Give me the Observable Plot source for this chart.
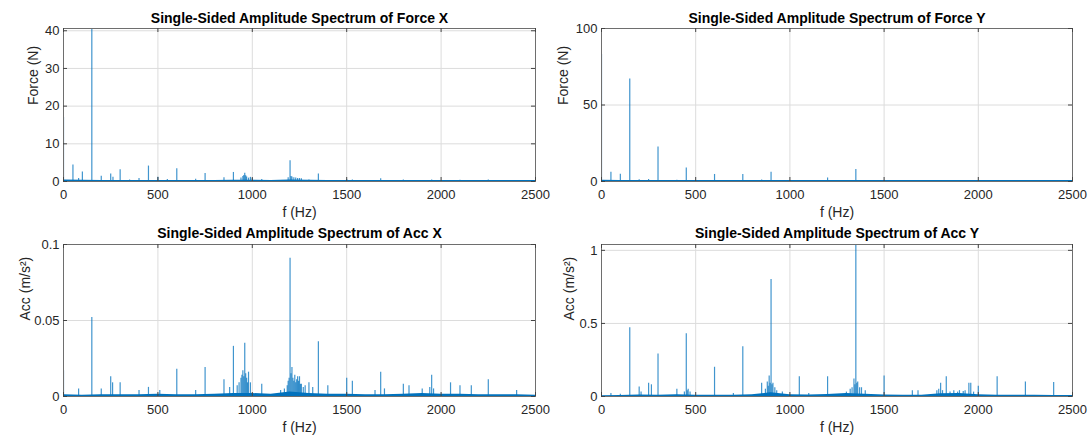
<!DOCTYPE html>
<html><head><meta charset="utf-8">
<script src="https://cdn.jsdelivr.net/npm/d3@7"></script>
<script src="https://cdn.jsdelivr.net/npm/@observablehq/plot@0.6"></script>
<style>
body{margin:0;background:#fff;}
#fig{position:relative;width:1088px;height:439px;font-family:"Liberation Sans",Arial,sans-serif;background:#fff;}
#fig svg{position:absolute;overflow:visible;}
</style></head><body><div id="fig"></div>
<script>
// ---- data ----
const xTicks = [0, 500, 1000, 1500, 2000, 2500];
const floorFreq = [0,100,200,300,400,500,600,700,800,900,1000,1100,1200,1300,1400,1500,1600,1700,1800,1900,2000,2100,2200,2300,2400,2500];

const forceXTitle = "Single-Sided Amplitude Spectrum of Force X";
const forceXLabel = "Force (N)";
const forceXTicks = [0, 10, 20, 30, 40];
const forceXMax = 40.6;
const forceXPeaks = [[0,17],[50,4.4],[80,0.8],[100,2.5],[150,40.6],[200,1.4],[250,2.0],[262,1.1],[300,3.1],[350,0.4],[400,0.8],[450,4.1],[500,1.1],[550,0.5],[600,3.4],[700,0.6],[750,2.1],[850,1.0],[900,2.4],[940,0.9],[950,1.3],[955,1.6],[960,2.2],[965,1.5],[970,1.2],[980,0.9],[990,1.1],[1000,0.8],[1050,0.5],[1190,1.0],[1200,5.5],[1205,1.3],[1210,1.2],[1220,1.0],[1230,0.9],[1240,0.8],[1250,0.8],[1260,0.7],[1300,0.4],[1350,2.0],[1500,0.5],[1530,0.4],[1680,0.7],[1800,0.4],[1950,0.4],[2100,0.3],[2250,0.4]];
const forceXFloor = [0.4,0.3,0.25,0.25,0.25,0.25,0.25,0.25,0.25,0.3,0.35,0.25,0.4,0.3,0.25,0.25,0.25,0.25,0.25,0.25,0.25,0.25,0.25,0.25,0.25,0.25];

const forceYTitle = "Single-Sided Amplitude Spectrum of Force Y";
const forceYLabel = "Force (N)";
const forceYTicks = [0, 50, 100];
const forceYMax = 100;
const forceYPeaks = [[0,83],[50,6.1],[100,4.8],[150,67],[200,1.2],[250,1.3],[300,22.5],[350,0.6],[400,0.8],[450,8.8],[500,0.6],[600,4.6],[750,4.5],[850,1.0],[900,6.0],[1200,2.3],[1350,7.9],[1500,0.6],[1800,0.5],[2100,0.5],[2250,0.5]];
const forceYFloor = [0.8,0.6,0.6,0.6,0.6,0.6,0.6,0.6,0.6,0.6,0.6,0.6,0.6,0.6,0.6,0.6,0.6,0.6,0.6,0.6,0.6,0.6,0.6,0.6,0.6,0.6];

const accXTitle = "Single-Sided Amplitude Spectrum of Acc X";
const accXLabel = "Acc (m/s²)";
const accXTicks = [0, 0.05, 0.1];
const accXMax = 0.1;
const accXPeaks = [[0,0.017],[80,0.005],[150,0.052],[200,0.005],[250,0.013],[260,0.009],[300,0.009],[400,0.004],[450,0.006],[510,0.004],[600,0.018],[700,0.004],[750,0.019],[850,0.011],[880,0.006],[900,0.033],[920,0.007],[930,0.009],[940,0.012],[945,0.014],[950,0.017],[955,0.013],[960,0.035],[965,0.015],[970,0.012],[975,0.009],[980,0.016],[990,0.009],[1050,0.008],[1150,0.004],[1170,0.005],[1185,0.007],[1190,0.01],[1195,0.012],[1200,0.091],[1205,0.015],[1210,0.019],[1215,0.012],[1220,0.01],[1225,0.014],[1230,0.009],[1235,0.011],[1240,0.013],[1245,0.01],[1250,0.013],[1255,0.008],[1260,0.008],[1270,0.006],[1280,0.007],[1300,0.009],[1320,0.006],[1350,0.036],[1400,0.007],[1500,0.012],[1530,0.01],[1650,0.004],[1680,0.016],[1700,0.005],[1800,0.008],[1830,0.007],[1900,0.005],[1940,0.006],[1950,0.014],[1960,0.005],[2050,0.009],[2100,0.007],[2160,0.007],[2250,0.011],[2400,0.004]];
const accXFloor = [0.0012,0.0008,0.0012,0.0012,0.0012,0.0015,0.0012,0.0012,0.0015,0.002,0.002,0.0015,0.003,0.002,0.0015,0.0015,0.0012,0.0012,0.0015,0.002,0.0015,0.0015,0.0012,0.0012,0.0012,0.0008];

const accYTitle = "Single-Sided Amplitude Spectrum of Acc Y";
const accYLabel = "Acc (m/s²)";
const accYTicks = [0, 0.5, 1];
const accYMax = 1.04;
const accYPeaks = [[50,0.02],[100,0.015],[150,0.47],[200,0.065],[210,0.03],[250,0.09],[265,0.08],[300,0.29],[400,0.05],[440,0.03],[450,0.43],[455,0.04],[460,0.05],[470,0.03],[600,0.2],[700,0.02],[750,0.34],[850,0.09],[870,0.05],[880,0.1],[885,0.07],[890,0.14],[895,0.09],[900,0.8],[905,0.08],[910,0.09],[920,0.06],[930,0.04],[960,0.03],[1050,0.135],[1100,0.02],[1200,0.135],[1300,0.03],[1320,0.05],[1330,0.06],[1340,0.12],[1345,0.08],[1350,1.04],[1355,0.09],[1360,0.1],[1370,0.06],[1380,0.06],[1400,0.04],[1500,0.14],[1650,0.04],[1680,0.04],[1780,0.04],[1790,0.05],[1800,0.09],[1810,0.04],[1830,0.135],[1850,0.03],[1870,0.04],[1890,0.03],[1900,0.04],[1920,0.035],[1930,0.04],[1950,0.09],[1960,0.09],[1975,0.03],[2000,0.07],[2100,0.135],[2250,0.1],[2400,0.095]];
const accYFloor = [0.005,0.006,0.01,0.008,0.012,0.008,0.008,0.008,0.012,0.025,0.012,0.01,0.014,0.02,0.016,0.01,0.008,0.008,0.018,0.02,0.012,0.008,0.008,0.008,0.006,0.006];

// ---- drawing ----
const blue = "#0072BD";
const fig = document.getElementById("fig");

function panel(o) {
  const W = 544, H = o.height;
  const fw = W - o.marginLeft - o.marginRight;
  const fh = H - o.marginTop - o.marginBottom;
  const floor = floorFreq.map((f, i) => ({f, a: o.floor[i]}));
  const chart = Plot.plot({
    width: W, height: H,
    marginLeft: o.marginLeft, marginRight: o.marginRight,
    marginTop: o.marginTop, marginBottom: o.marginBottom,
    style: {fontFamily: '"Liberation Sans", Arial, sans-serif', fontSize: "13px", color: "#262626", background: "transparent"},
    x: {domain: [0, 2500], axis: null},
    y: {domain: [0, o.ymax], axis: null},
    marks: [
      Plot.gridX(xTicks, {stroke: "#dcdcdc", strokeOpacity: 1}),
      Plot.gridY(o.yTicks, {stroke: "#dcdcdc", strokeOpacity: 1}),
      Plot.areaY(floor, {x: "f", y: "a", fill: blue, clip: true}),
      Plot.ruleX(o.peaks, {x: d => d[0], y1: 0, y2: d => d[1], stroke: blue, strokeWidth: 1.2, strokeOpacity: 0.75, clip: true}),
      Plot.frame({stroke: "#6e6e6e"}),
      Plot.ruleX(xTicks, {stroke: "#444", insetTop: fh - 4}),
      Plot.ruleX(xTicks, {stroke: "#444", insetBottom: fh - 4}),
      Plot.ruleY(o.yTicks, {stroke: "#444", insetRight: fw - 4}),
      Plot.ruleY(o.yTicks, {stroke: "#444", insetLeft: fw - 4}),
      Plot.axisX(xTicks, {tickSize: 0, tickPadding: 8, fontSize: 13, fill: "#262626", label: null, tickFormat: d => String(d)}),
      Plot.axisY(o.yTicks, {tickSize: 0, tickPadding: 4, fontSize: 13, fill: "#262626", label: null, tickFormat: d => String(d)}),
      Plot.text([o.title], {frameAnchor: "top", dy: o.titleDy, lineAnchor: "middle", fontSize: 14, fontWeight: "bold", fill: "#000"}),
      Plot.text(["f (Hz)"], {frameAnchor: "bottom", dy: 31, lineAnchor: "middle", fontSize: 14, fill: "#262626"}),
      Plot.text([o.ylabel], {frameAnchor: "left", dx: o.ylabelDx, rotate: -90, lineAnchor: "middle", fontSize: 14, fill: "#262626"})
    ]
  });
  chart.style.left = o.left + "px";
  chart.style.top = o.top + "px";
  fig.appendChild(chart);
}

panel({left: 0, top: 0, height: 220, marginLeft: 63, marginRight: 9, marginTop: 28, marginBottom: 39,
  ymax: forceXMax, yTicks: forceXTicks, peaks: forceXPeaks, floor: forceXFloor, title: forceXTitle, ylabel: forceXLabel, ylabelDx: -30, titleDy: -10});
panel({left: 544, top: 0, height: 220, marginLeft: 57, marginRight: 16, marginTop: 28, marginBottom: 39,
  ymax: forceYMax, yTicks: forceYTicks, peaks: forceYPeaks, floor: forceYFloor, title: forceYTitle, ylabel: forceYLabel, ylabelDx: -38, titleDy: -10});
panel({left: 0, top: 216, height: 223, marginLeft: 63, marginRight: 9, marginTop: 28, marginBottom: 43,
  ymax: accXMax, yTicks: accXTicks, peaks: accXPeaks, floor: accXFloor, title: accXTitle, ylabel: accXLabel, ylabelDx: -38, titleDy: -11});
panel({left: 544, top: 216, height: 223, marginLeft: 57, marginRight: 16, marginTop: 28, marginBottom: 43,
  ymax: accYMax, yTicks: accYTicks, peaks: accYPeaks, floor: accYFloor, title: accYTitle, ylabel: accYLabel, ylabelDx: -32, titleDy: -11});
</script></body></html>
